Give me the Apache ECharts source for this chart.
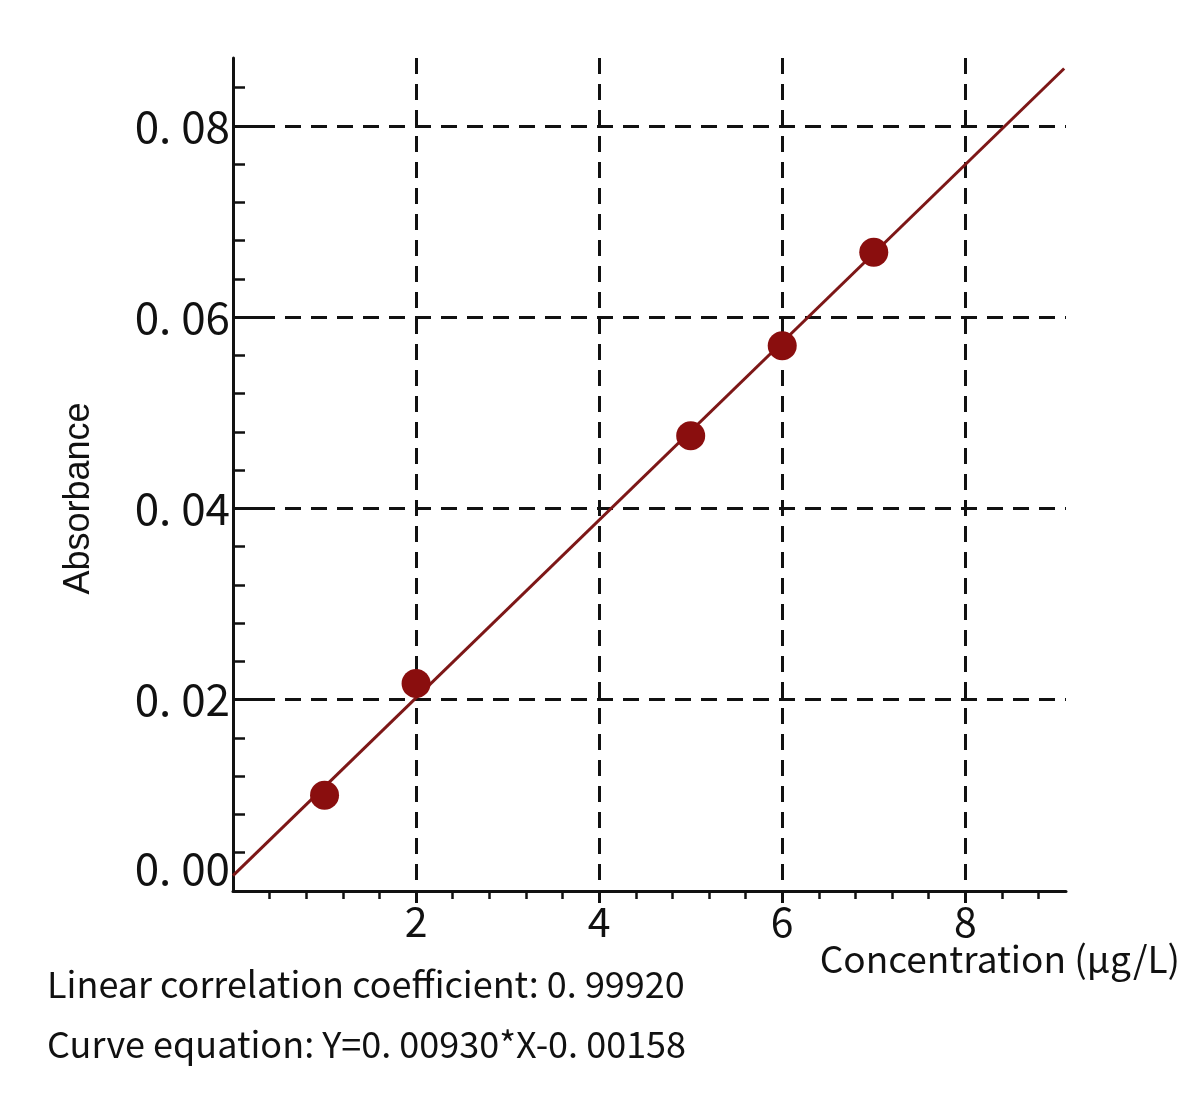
<!DOCTYPE html>
<html>
<head>
<meta charset="utf-8">
<script src="https://cdn.jsdelivr.net/npm/echarts@6/dist/echarts.min.js"></script>
<style>
  html, body { margin: 0; padding: 0; background: #fff; }
  #chart { width: 1200px; height: 1097px; }
</style>
</head>
<body>
<div id="chart"></div>
<script>
        // 数据
        const concentration = [1, 2, 5, 6, 7];
        const absorbance = [0.0100, 0.0217, 0.0476, 0.0570, 0.0668];
        // 拟合直线两端
        const fitX = [0, 9.08];
        const fitY = [0.0016, 0.0860];

        // 刻度
        const xMajor = [2, 4, 6, 8];
        const xMinor = [0.4, 0.8, 1.2, 1.6, 2.4, 2.8, 3.2, 3.6, 4.4, 4.8, 5.2, 5.6, 6.4, 6.8, 7.2, 7.6, 8.4, 8.8];
        const yMajor = [0, 0.02, 0.04, 0.06, 0.08];
        const yMinor = [0.004, 0.008, 0.012, 0.016, 0.024, 0.028, 0.032, 0.036, 0.044, 0.048, 0.052, 0.056, 0.064, 0.068, 0.072, 0.076, 0.084];

        const numFont = 'Noto Sans CJK JP';
        const ink = '#111';
        const red = '#8a0e0e';

        const chart = echarts.init(document.getElementById('chart'));

        const dashStyle = { color: ink, width: 3, type: [16, 10] };

        const option = {
            backgroundColor: '#fff',
            animation: false,
            grid: { left: 233, right: 134, top: 58, bottom: 206, outerBoundsMode: 'none', containLabel: false },
            xAxis: [
                {
                    type: 'value',
                    min: 0,
                    max: 9.1,
                    interval: 2,
                    position: 'bottom',
                    axisLine: { show: true, onZero: false, lineStyle: { color: ink, width: 3 } },
                    axisTick: { show: true, customValues: xMajor, length: 12, lineStyle: { color: ink, width: 3 } },
                    axisLabel: {
                        customValues: xMajor, margin: 10,
                        fontFamily: numFont, fontSize: 41, color: ink
                    },
                    splitLine: { show: true, lineStyle: dashStyle }
                },
                {
                    // 次刻度
                    type: 'value',
                    min: 0,
                    max: 9.1,
                    position: 'bottom',
                    axisLine: { show: false },
                    axisTick: { show: true, customValues: xMinor, length: 8, lineStyle: { color: ink, width: 2.5 } },
                    axisLabel: { show: false },
                    splitLine: { show: false }
                }
            ],
            yAxis: [
                {
                    type: 'value',
                    min: 0,
                    max: 0.0871,
                    interval: 0.02,
                    position: 'left',
                    name: 'Absorbance',
                    nameLocation: 'middle',
                    nameRotate: 90,
                    nameGap: 136,
                    nameTextStyle: {
                        fontFamily: 'Liberation Sans', fontSize: 36, color: ink,
                        padding: [0, 48, 0, 0]
                    },
                    axisLine: { show: true, onZero: false, lineStyle: { color: ink, width: 3 } },
                    axisTick: { show: true, inside: true, customValues: yMajor, length: 40, lineStyle: { color: ink, width: 3 } },
                    axisLabel: {
                        customValues: yMajor, margin: 3,
                        fontFamily: numFont, fontSize: 44, color: ink,
                        formatter: function (v) {
                            const s = '0. ' + String(Math.round(v * 100)).padStart(2, '0');
                            return v === 0 ? '{z|' + s + '}' : s;
                        },
                        rich: {
                            z: { fontFamily: numFont, fontSize: 44, color: ink, padding: [0, 0, 46, 0] }
                        }
                    },
                    splitLine: { show: true, showMinLine: false, lineStyle: dashStyle }
                },
                {
                    type: 'value',
                    min: 0,
                    max: 0.0871,
                    position: 'left',
                    axisLine: { show: false },
                    axisTick: { show: true, inside: true, customValues: yMinor, length: 12, lineStyle: { color: ink, width: 2.5 } },
                    axisLabel: { show: false },
                    splitLine: { show: false }
                }
            ],
            graphic: [
                {
                    // x轴名称
                    type: 'text', right: 20, top: 940,
                    style: { text: 'Concentration (μg/L)', font: '37px "Noto Sans CJK JP"', fill: ink }
                },
                {
                    type: 'text', left: 47, top: 966,
                    style: { text: 'Linear correlation coefficient: 0. 99920', font: '36px "Noto Sans CJK JP"', fill: ink }
                },
                {
                    type: 'text', left: 47, top: 1026,
                    style: { text: 'Curve equation: Y=0. 00930*X-0. 00158', font: '36px "Noto Sans CJK JP"', fill: ink }
                }
            ],
            series: [
                {
                    type: 'line',
                    data: fitX.map((x, i) => [x, fitY[i]]),
                    showSymbol: false,
                    lineStyle: { color: '#7d1717', width: 3 },
                    z: 3
                },
                {
                    type: 'scatter',
                    data: concentration.map((x, i) => [x, absorbance[i]]),
                    symbol: 'circle',
                    symbolSize: 29,
                    itemStyle: { color: red, opacity: 1 },
                    z: 4
                }
            ]
        };

        chart.setOption(option);

        window.addEventListener('resize', function () {
            chart.resize();
        });
</script>
</body>
</html>
